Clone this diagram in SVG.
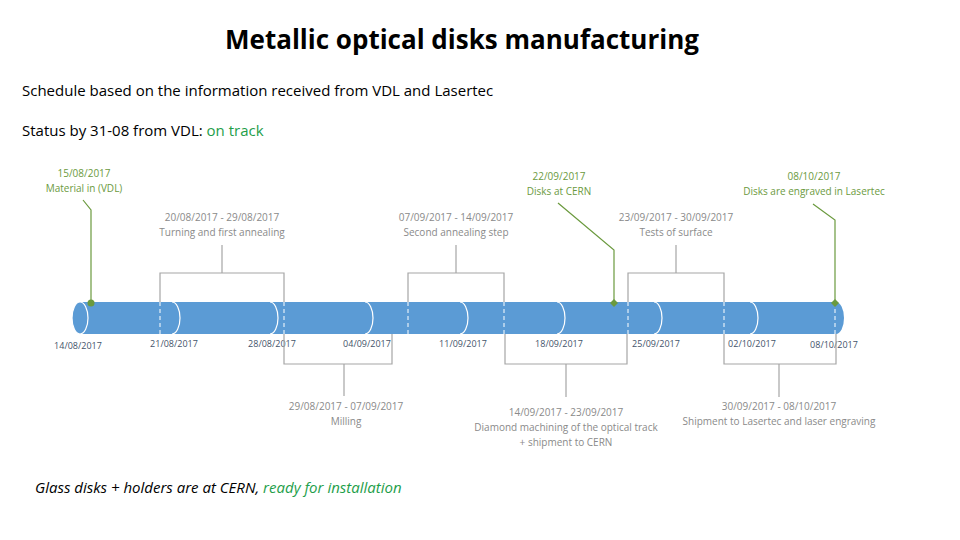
<svg xmlns="http://www.w3.org/2000/svg" width="960" height="540" viewBox="0 0 960 540">
<style>
text{font-family:"Open Sans","Liberation Sans",sans-serif}
.g{fill:#8a8a8a;font-size:10px;text-anchor:middle}
.d{fill:#44546a;font-size:9px;text-anchor:middle}
.m{fill:#6b9a3e;font-size:10px;text-anchor:middle}
.br{fill:none;stroke:#a6a6a6;stroke-width:1.2}
.gl{fill:none;stroke:#6b9a3e;stroke-width:1.2}
.arc{fill:none;stroke:#fff;stroke-width:1.2}
.dash{stroke:#fff;stroke-width:1;stroke-dasharray:4 3}
</style>
<rect width="960" height="540" fill="#fff"/>
<text x="462" y="49" font-size="26" font-weight="bold" text-anchor="middle" fill="#000" font-family="Open Sans">Metallic optical disks manufacturing</text>
<text x="22" y="96" font-size="15" fill="#000">Schedule based on the information received from VDL and Lasertec</text>
<text x="22" y="136" font-size="15" fill="#000">Status by 31-08 from VDL: <tspan fill="#1e9e4a">on track</tspan></text>
<g id="bar">
<path d="M80 302 H836 A8 16 0 0 1 836 334 H80 Z" fill="#5b9bd5"/>
<ellipse cx="80" cy="318" rx="8" ry="16" fill="#5b9bd5" stroke="#fff" stroke-width="1.2"/>
<path class="arc" d="M172 302 A8 16 0 0 1 172 334 M270 302 A8 16 0 0 1 270 334 M365 302 A8 16 0 0 1 365 334 M460 302 A8 16 0 0 1 460 334 M557 302 A8 16 0 0 1 557 334 M654 302 A8 16 0 0 1 654 334 M750 302 A8 16 0 0 1 750 334"/>
<path class="dash" d="M160 302V334M284 302V334M408 302V334M504 302V334M628 302V334M724 302V334M835 302V334"/>
</g>
<g id="dates">
<text class="d" x="78" y="349">14/08/2017</text>
<text class="d" x="174" y="347">21/08/2017</text>
<text class="d" x="272" y="347">28/08/2017</text>
<text class="d" x="367" y="347">04/09/2017</text>
<text class="d" x="463" y="347">11/09/2017</text>
<text class="d" x="559" y="347">18/09/2017</text>
<text class="d" x="656" y="347">25/09/2017</text>
<text class="d" x="752" y="347">02/10/2017</text>
<text class="d" x="834" y="348">08/10/2017</text>
</g>
<g id="connectors">
<path class="br" d="M160 302V273H284V302M222 273V245"/>
<path class="br" d="M408 302V273H504V302M456 273V245"/>
<path class="br" d="M628 302V273H724V302M676 273V245"/>
<path class="br" d="M284 334V364H392V334M344 364V396"/>
<path class="br" d="M505 334V364H627V334M566 364V397"/>
<path class="br" d="M724 334V364H836V334M779 364V397"/>
<path class="gl" d="M91 303V210L83 200"/>
<path class="gl" d="M614 303V250L558 203"/>
<path class="gl" d="M835 303V220L813 204"/>
</g>
<g id="markers">
<circle cx="91" cy="303" r="3.5" fill="#6b9a3e"/>
<path d="M614 299L618 303L614 307L610 303Z" fill="#6b9a3e"/>
<path d="M835 299L839 303L835 307L831 303Z" fill="#6b9a3e"/>
</g>
<g id="milestones">
<text class="m" x="84" y="177">15/08/2017</text><text class="m" x="84" y="192">Material in (VDL)</text>
<text class="m" x="559" y="180">22/09/2017</text><text class="m" x="559" y="195">Disks at CERN</text>
<text class="m" x="814" y="180">08/10/2017</text><text class="m" x="814" y="195">Disks are engraved in Lasertec</text>
</g>
<g id="tasks">
<text class="g" x="222" y="221">20/08/2017 - 29/08/2017</text><text class="g" x="222" y="236">Turning and first annealing</text>
<text class="g" x="456" y="221">07/09/2017 - 14/09/2017</text><text class="g" x="456" y="236">Second annealing step</text>
<text class="g" x="676" y="221">23/09/2017 - 30/09/2017</text><text class="g" x="676" y="236">Tests of surface</text>
<text class="g" x="346" y="410">29/08/2017 - 07/09/2017</text><text class="g" x="346" y="425">Milling</text>
<text class="g" x="566" y="416">14/09/2017 - 23/09/2017</text><text class="g" x="566" y="431">Diamond machining of the optical track</text><text class="g" x="566" y="446">+ shipment to CERN</text>
<text class="g" x="779" y="410">30/09/2017 - 08/10/2017</text><text class="g" x="779" y="425">Shipment to Lasertec and laser engraving</text>
</g>
<text x="35" y="493" font-size="15" font-style="italic" fill="#000">Glass disks + holders are at CERN, <tspan fill="#1e9e4a">ready for installation</tspan></text>
</svg>
